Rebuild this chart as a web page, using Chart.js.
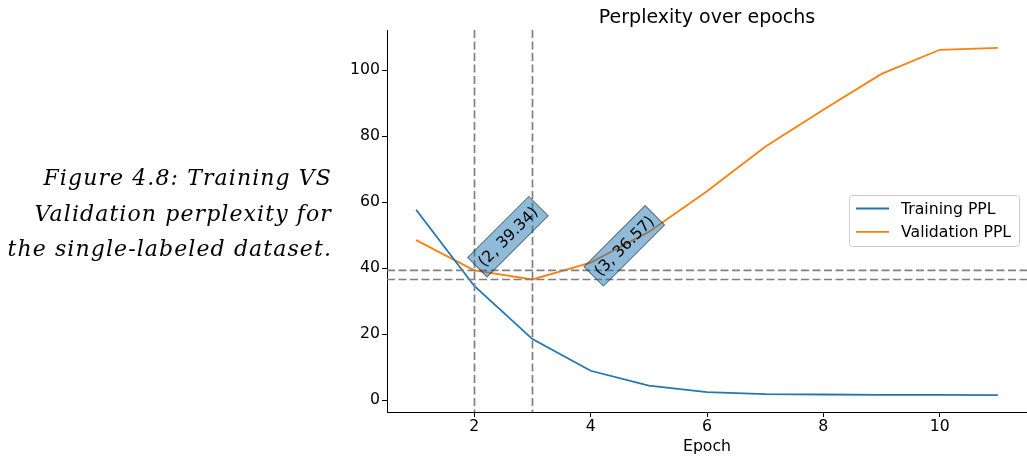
<!DOCTYPE html>
<html>
<head>
<meta charset="utf-8">
<script src="https://cdn.jsdelivr.net/npm/chart.js@4"></script>
<style>
  body { margin: 0; background: #fff; }
  #wrap { position: relative; width: 1027px; height: 460px; }
  #caption {
    position: absolute; right: 695px; top: 160px;
    text-align: right; font-family: "DejaVu Serif", serif; font-style: italic;
    font-size: 22px; line-height: 35.5px; letter-spacing: 1.1px; color: #000;
    white-space: nowrap;
  }
  canvas { position: absolute; left: 0; top: 0; }
</style>
</head>
<body>
<div id="wrap">
  <canvas id="pplChart" width="1027" height="460"></canvas>
  <div id="caption">Figure 4.8: Training VS<br>Validation perplexity for<br>the single-labeled dataset.</div>
</div>
<script>
const epochs = [1, 2, 3, 4, 5, 6, 7, 8, 9, 10, 11];
const trainPPL = [57.7, 34.6, 18.5, 8.9, 4.4, 2.4, 1.8, 1.7, 1.6, 1.6, 1.5];
const valPPL = [48.5, 39.34, 36.57, 41.7, 51.0, 63.3, 76.8, 88.0, 98.9, 106.2, 106.8];
const xTicks = [2, 4, 6, 8, 10];
const yTicks = [0, 20, 40, 60, 80, 100];
// epochs marked with the dashed guides, and where their labels sit
const markEpochs = [2, 3];
const markLabelEpochs = [2, 4];

const BLUE = "#1f77b4";
const ORANGE = "#ff7f0e";
const FONT = "'DejaVu Sans', sans-serif";
const BASE = 15.7;

const toPoints = (ys) => epochs.map((e, i) => ({ x: e, y: ys[i] }));

// title, dashed guides, rotated value boxes and the legend box
const overlay = {
  id: "overlay",
  afterDatasetsDraw(chart) {
    const { ctx, chartArea: a, scales: { x, y } } = chart;
    ctx.save();

    ctx.fillStyle = "#000";
    ctx.font = "19px " + FONT;
    ctx.textAlign = "center";
    ctx.textBaseline = "alphabetic";
    ctx.fillText("Perplexity over epochs", (a.left + a.right) / 2, 23);

    ctx.strokeStyle = "#808080";
    ctx.lineWidth = 1.7;
    ctx.setLineDash([8, 3.5]);
    markEpochs.forEach((e) => {
      const px = Math.round(x.getPixelForValue(e)) + 0.5;
      ctx.beginPath(); ctx.moveTo(px, a.top); ctx.lineTo(px, a.bottom); ctx.stroke();
      const py = y.getPixelForValue(valPPL[epochs.indexOf(e)]);
      ctx.beginPath(); ctx.moveTo(a.left, py); ctx.lineTo(a.right, py); ctx.stroke();
    });
    ctx.setLineDash([]);

    ctx.font = BASE + "px " + FONT;
    markEpochs.forEach((e, i) => {
      const v = valPPL[epochs.indexOf(e)];
      const text = "(" + e + ", " + v.toFixed(2) + ")";
      const w = ctx.measureText(text).width;
      const h = BASE * 1.15;
      const pad = 0.3 * BASE;
      const ax = x.getPixelForValue(markLabelEpochs[i]);
      const ay = y.getPixelForValue(v);
      const half = (w + h) / (2 * Math.SQRT2);
      ctx.save();
      ctx.translate(ax + half, ay - half);
      ctx.rotate(-Math.PI / 4);
      ctx.fillStyle = "rgba(31,119,180,0.5)";
      ctx.strokeStyle = "rgba(0,0,0,0.5)";
      ctx.lineWidth = 1;
      ctx.fillRect(-w / 2 - pad, -h / 2 - pad, w + 2 * pad, h + 2 * pad);
      ctx.strokeRect(-w / 2 - pad, -h / 2 - pad, w + 2 * pad, h + 2 * pad);
      ctx.fillStyle = "#000";
      ctx.textAlign = "center";
      ctx.textBaseline = "middle";
      ctx.fillText(text, 0, 1);
      ctx.restore();
    });

    // legend
    const lx = 849.5, ly = 195.5, lw = 170, lh = 51;
    ctx.beginPath();
    ctx.roundRect(lx, ly, lw, lh, 3);
    ctx.fillStyle = "rgba(255,255,255,0.8)";
    ctx.fill();
    ctx.strokeStyle = "#cccccc";
    ctx.lineWidth = 1;
    ctx.stroke();
    chart.data.datasets.forEach((ds, i) => {
      const ry = 208.5 + i * 23.4;
      ctx.strokeStyle = ds.borderColor;
      ctx.lineWidth = ds.borderWidth;
      ctx.beginPath(); ctx.moveTo(856, ry); ctx.lineTo(889, ry); ctx.stroke();
      ctx.fillStyle = "#000";
      ctx.textAlign = "left";
      ctx.textBaseline = "middle";
      ctx.fillText(ds.label, 901, ry + 1);
    });
    ctx.restore();
  },
};

new Chart(document.getElementById("pplChart"), {
  type: "line",
  data: {
    datasets: [
      { label: "Training PPL", data: toPoints(trainPPL), borderColor: BLUE, borderWidth: 1.8, pointRadius: 0, tension: 0 },
      { label: "Validation PPL", data: toPoints(valPPL), borderColor: ORANGE, borderWidth: 1.8, pointRadius: 0, tension: 0 },
    ],
  },
  options: {
    responsive: false,
    animation: false,
    devicePixelRatio: 1,
    layout: { padding: { left: 340, right: 0, top: 30, bottom: 0 } },
    plugins: {
      legend: { display: false },
      tooltip: { enabled: false },
      title: { display: false },
    },
    scales: {
      x: {
        type: "linear",
        min: 0.5,
        max: 11.5,
        bounds: "data",
        afterBuildTicks: (s) => { s.ticks = xTicks.map((v) => ({ value: v })); },
        afterFit: (s) => { s.height = 48; },
        grid: { drawOnChartArea: false, drawTicks: true, tickLength: 5, tickColor: "#000", tickWidth: 1 },
        border: { display: true, color: "#000", width: 1 },
        ticks: { color: "#000", font: { family: FONT, size: BASE }, padding: 1, autoSkip: false, maxRotation: 0 },
        title: { display: true, text: "Epoch", color: "#000", font: { family: FONT, size: BASE }, padding: { top: 0, bottom: 4 } },
      },
      y: {
        type: "linear",
        min: -3.6,
        max: 112.2,
        bounds: "data",
        afterBuildTicks: (s) => { s.ticks = yTicks.map((v) => ({ value: v })); },
        afterFit: (s) => { s.width = 47; },
        grid: { drawOnChartArea: false, drawTicks: true, tickLength: 5, tickColor: "#000", tickWidth: 1 },
        border: { display: true, color: "#000", width: 1 },
        ticks: { color: "#000", font: { family: FONT, size: BASE }, padding: 2, autoSkip: false },
      },
    },
  },
  plugins: [overlay],
});
</script>
</body>
</html>
